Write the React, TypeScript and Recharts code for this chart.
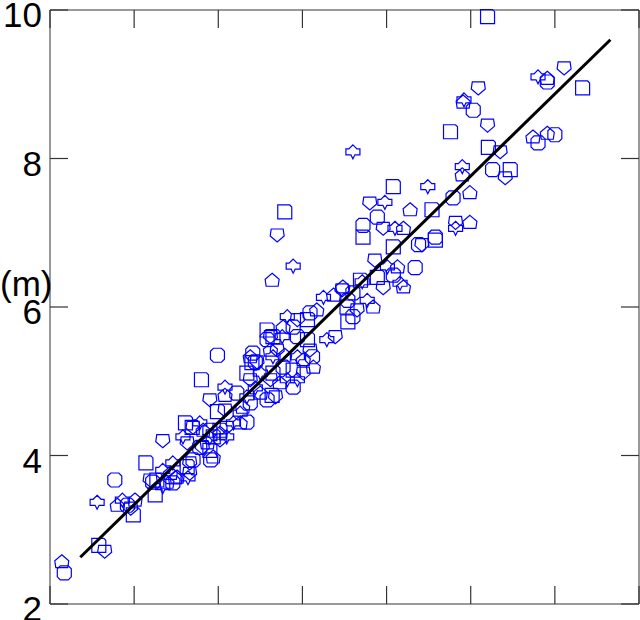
import React from 'react';
import { ScatterChart, Scatter, XAxis, YAxis } from 'recharts';

// axis ticks (x has no labels in the figure)
const xTicks = [0, 1, 2, 3, 4, 5, 6, 7];
const yTicks = [2, 4, 6, 8, 10];

const obsX = [
	0.14, 0.17, 0.58, 0.65, 0.56, 0.80, 0.92, 0.99, 0.96, 0.86, 1.01, 0.77, 1.14, 1.34, 1.46, 1.39, 1.22, 1.25, 1.66, 1.64,
	1.49, 1.91, 1.69, 1.81, 1.90, 2.02, 1.99, 1.80, 1.90, 2.08, 2.08, 2.22, 1.99, 2.08, 2.26, 2.38, 2.44, 2.34, 2.38, 2.44,
	2.50, 2.58, 2.64, 2.68, 2.34, 2.29, 2.38, 1.61, 1.70, 1.78, 1.82, 1.90, 2.02, 2.10, 2.18, 2.26, 2.34, 1.94, 2.02, 2.10,
	1.87, 1.78, 1.90, 1.63, 1.58, 1.94, 1.70, 1.63, 1.66, 1.34, 1.43, 1.46, 1.27, 1.19, 1.34, 1.51, 2.58, 2.65, 2.70, 2.65,
	2.79, 2.94, 3.06, 3.09, 2.94, 3.01, 2.77, 2.89, 3.01, 2.82, 2.73, 2.89, 2.65, 2.62, 2.94, 3.13, 3.12, 4.08, 3.80, 3.98,
	4.28, 3.89, 2.79, 2.70, 2.89, 2.64, 3.72, 3.72, 3.96, 4.10, 4.20, 4.34, 4.08, 3.86, 4.01, 4.13, 4.08, 3.89, 3.96, 4.16,
	4.20, 4.38, 3.69, 3.47, 3.25, 3.37, 3.54, 3.53, 3.65, 3.77, 3.84, 3.60, 3.54, 3.39, 3.29, 3.17, 3.09, 3.06, 2.94, 2.82,
	2.77, 2.89, 2.58, 2.62, 2.76, 2.62, 2.41, 2.40, 2.46, 2.50, 4.91, 5.03, 4.76, 5.20, 3.60, 5.74, 5.80, 5.21, 5.35, 4.90,
	4.90, 5.26, 5.47, 5.41, 4.49, 4.99, 4.79, 4.54, 4.82, 4.82, 4.99, 4.58, 4.58, 4.42, 3.71, 3.48, 3.60, 5.20, 6.11, 5.80,
	5.91, 5.91, 6.33, 5.09, 4.92, 5.91, 6.00,
];
const obsY = [
	2.57, 2.42, 2.79, 2.71, 3.37, 3.33, 3.33, 3.20, 3.29, 3.40, 3.40, 3.67, 3.90, 4.20, 3.90, 3.64, 3.64, 3.47, 3.90, 3.70,
	3.70, 3.94, 4.38, 4.11, 4.24, 4.30, 5.35, 5.02, 4.75, 4.92, 4.81, 4.84, 4.59, 4.61, 4.57, 5.33, 5.26, 5.11, 5.02, 4.91,
	4.84, 4.75, 4.81, 4.79, 4.79, 4.65, 4.71, 4.44, 4.38, 4.44, 4.34, 4.34, 4.34, 4.38, 4.44, 4.44, 4.45, 4.25, 4.21, 4.25,
	4.17, 4.11, 4.07, 4.17, 4.25, 3.98, 3.94, 3.85, 3.76, 3.80, 3.76, 3.63, 3.67, 3.67, 3.58, 3.71, 5.56, 5.60, 5.42, 5.33,
	5.35, 5.60, 5.56, 5.42, 5.33, 5.29, 5.19, 5.15, 5.11, 5.02, 4.98, 4.92, 5.11, 5.02, 5.02, 5.19, 5.33, 7.62, 7.40, 7.41,
	7.31, 7.21, 7.28, 6.97, 6.55, 6.36, 7.10, 6.94, 7.06, 7.06, 7.06, 6.53, 6.81, 6.63, 6.54, 6.54, 6.43, 6.40, 6.26, 6.32,
	6.27, 6.84, 6.36, 6.23, 6.13, 6.16, 6.09, 6.00, 5.96, 6.09, 6.00, 5.87, 5.80, 5.60, 5.56, 5.96, 5.92, 5.83, 5.83, 5.87,
	5.73, 5.73, 5.69, 5.60, 5.60, 5.42, 5.38, 5.25, 5.26, 5.11, 8.76, 8.65, 8.36, 8.45, 8.09, 8.29, 8.21, 8.15, 8.09, 7.89,
	7.78, 7.85, 7.85, 7.74, 7.62, 7.54, 7.47, 7.31, 7.14, 7.06, 7.14, 6.94, 6.90, 6.84, 6.34, 6.27, 6.19, 9.91, 9.22, 9.10,
	9.08, 9.03, 8.95, 8.95, 8.79, 8.34, 8.32,
];

// end points of the fitted line
const fitX = [0.36, 6.66];
const fitY = [2.63, 9.6];

const points = obsX.map((x, i) => ({ x, y: obsY[i] }));
const fitLine = fitX.map((x, i) => ({ x, y: fitY[i] }));

const FONT = '"Liberation Sans", Arial, sans-serif';

// hollow marker outlines, roughly like the ones in the figure
const GLYPHS = [
	'M0,-7 L7,-1 L6,6 L-6,6 L-7,-1 Z',
	'M-4,-7 L4,-7 L7,-4 L7,4 L4,7 L-4,7 L-7,4 L-7,-4 Z',
	'M-7,-7 L5,-7 L7,-5 L7,7 L-7,7 Z',
	'M-6,-6 L6,-6 L7,1 L0,7 L-7,1 Z',
	'M0,-7 L4,-3 L7,-3 L7,3 L2,3 L0,7 L-2,3 L-7,3 L-7,-3 L-4,-3 Z',
];

const Glyph = (props: any) => {
	const { cx, cy, index } = props;
	if (cx == null || cy == null) return <g />;
	const k = index != null ? index : Math.round(cx + cy);
	return (
		<path
			d={GLYPHS[k % GLYPHS.length]}
			transform={`translate(${cx},${cy})`}
			fill="none"
			stroke="#0000ff"
			strokeWidth={1.2}
		/>
	);
};

// tick mark pointing into the plot (+ the number on the left side)
const InTick = (props: any) => {
	const { x, y, payload, side } = props;
	const len = 18;
	let x2 = x;
	let y2 = y;
	if (side === 'bottom') y2 = y - len;
	if (side === 'top') y2 = y + len;
	if (side === 'left') x2 = x + len;
	if (side === 'right') x2 = x - len;
	return (
		<g>
			<line x1={x} y1={y} x2={x2} y2={y2} stroke="#333" strokeWidth={1.2} />
			{side === 'left' && (
				<text x={x - 8} y={y} dy={17} textAnchor="end" fontSize={35} fontFamily={FONT} fill="#000">
					{payload.value}
				</text>
			)}
		</g>
	);
};

const UnitLabel = (props: any) => {
	const vb = props.viewBox || { x: 0, y: 10, height: 594 };
	return (
		<text x={0} y={vb.y + vb.height / 2 - 11} fontSize={35} fontFamily={FONT} fill="#000">
			(m)
		</text>
	);
};

const axisLine = { stroke: '#777', strokeWidth: 1.5 };

export default function App() {
	return (
		<div style={{ position: 'absolute', left: 0, top: 0, width: 640, height: 620, background: '#fff' }}>
			<ScatterChart width={640} height={620} margin={{ top: 9, right: 0, bottom: 15, left: 0 }}>
				<XAxis
					type="number"
					dataKey="x"
					domain={[0, 7]}
					ticks={xTicks}
					interval={0}
					height={1}
					tickSize={0}
					tickMargin={0}
					tickLine={false}
					tick={<InTick side="bottom" />}
					axisLine={axisLine}
				/>
				<XAxis
					xAxisId="top"
					orientation="top"
					type="number"
					dataKey="x"
					domain={[0, 7]}
					ticks={xTicks}
					interval={0}
					height={1}
					tickSize={0}
					tickMargin={0}
					tickLine={false}
					tick={<InTick side="top" />}
					axisLine={axisLine}
				/>
				<YAxis
					type="number"
					dataKey="y"
					domain={[2, 10]}
					ticks={yTicks}
					interval={0}
					width={50}
					tickSize={0}
					tickMargin={0}
					tickLine={false}
					tick={<InTick side="left" />}
					axisLine={axisLine}
					label={{ content: UnitLabel }}
				/>
				<YAxis
					yAxisId="right"
					orientation="right"
					type="number"
					dataKey="y"
					domain={[2, 10]}
					ticks={yTicks}
					interval={0}
					width={1}
					tickSize={0}
					tickMargin={0}
					tickLine={false}
					tick={<InTick side="right" />}
					axisLine={axisLine}
				/>
				<Scatter data={points} shape={<Glyph />} isAnimationActive={false} />
				<Scatter
					data={fitLine}
					xAxisId="top"
					yAxisId="right"
					line={{ stroke: '#000', strokeWidth: 3 }}
					lineType="joint"
					shape={() => <g />}
					isAnimationActive={false}
				/>
			</ScatterChart>
		</div>
	);
}
